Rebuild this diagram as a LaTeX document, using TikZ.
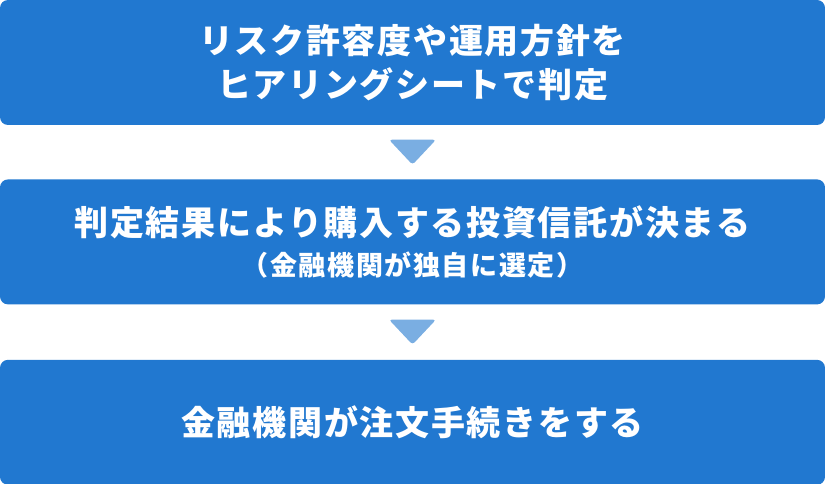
\documentclass[tikz,border=0pt]{standalone}
\usepackage{fontspec}
\newfontfamily\jpfont[LetterSpace=5]{Noto Sans CJK JP}
\newfontfamily\jpsmall[LetterSpace=6]{Noto Sans CJK JP}
\usetikzlibrary{positioning,calc}
\definecolor{boxblue}{HTML}{2178D0}
\definecolor{arrowblue}{HTML}{7AAEE2}
\begin{document}
\begin{tikzpicture}[x=1pt,y=1pt,node distance=54pt]

\tikzstyle{stepbox}=[fill=boxblue,rounded corners=8pt,minimum width=825pt,minimum height=125pt,inner sep=0pt,text=white,align=center,font=\jpfont\bfseries\fontsize{34}{44}\selectfont]
\tikzstyle{downtri}=[fill=arrowblue,rounded corners=3pt]

\useasboundingbox (0,0) rectangle (825,-484);

\node[stepbox] 		(s1) at (412.5,-62.5) {リスク許容度や運用方針を\\ヒアリングシートで判定};
\node[stepbox] 		(s2) [below=of s1] {判定結果により購入する投資信託が決まる\\[-4pt]{\jpsmall\bfseries\fontsize{27}{30}\selectfont （金融機関が独自に選定）}};
\node[stepbox] 		(s3) [below=55pt of s2] {金融機関が注文手続きをする};

% arrows between steps
\foreach \a/\b in {s1/s2,s2/s3}
	\fill[downtri] ($(\a.south)!0.5!(\b.north)+(-23.5,12.5)$) -- ++(47,0) -- ($(\a.south)!0.5!(\b.north)+(0,-12.5)$) -- cycle;

\end{tikzpicture}
\end{document}
